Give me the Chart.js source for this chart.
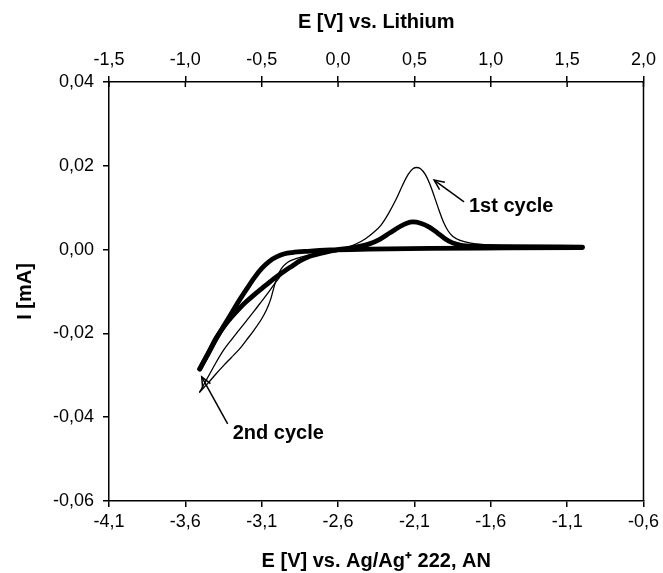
<!DOCTYPE html>
<html>
<head>
<meta charset="utf-8">
<script src="https://cdn.jsdelivr.net/npm/chart.js@4/dist/chart.umd.min.js"></script>
<style>
html,body{margin:0;padding:0;background:#fff;}
#wrap{width:663px;height:573px;}
</style>
</head>
<body>
<div id="wrap"><canvas id="c" width="663" height="573"></canvas></div>
<script>
// ---- Data (E vs Ag/Ag+ in V, I in mA) ----
// 1st cycle, cathodic sweep (from -1.0 V down to the vertex)
const c1CathE = [-1.0, -1.5, -2.0, -2.4, -2.6, -2.7, -2.8, -2.87, -2.93, -2.97, -3.0, -3.02, -3.04, -3.07, -3.1, -3.15, -3.2, -3.245, -3.3, -3.35, -3.4, -3.45, -3.506];
const c1CathI = [0.0005, 0.0003, 0.0002, 0.0, -0.0004, -0.0008, -0.0014, -0.0021, -0.0030, -0.0045, -0.0066, -0.0090, -0.0117, -0.0145, -0.0165, -0.0192, -0.0216, -0.0237, -0.0258, -0.0277, -0.0297, -0.0318, -0.0340];
// 1st cycle, anodic sweep (vertex back to -1.0 V, with the oxidation peak)
const c1AnodE = [-3.506, -3.45, -3.4, -3.35, -3.3, -3.25, -3.2, -3.15, -3.1, -3.05, -3.0, -2.95, -2.9, -2.85, -2.75, -2.65, -2.55, -2.48, -2.42, -2.37, -2.32, -2.27, -2.22, -2.18, -2.14, -2.11, -2.085, -2.06, -2.03, -2.0, -1.97, -1.94, -1.91, -1.88, -1.85, -1.8, -1.72, -1.6, -1.4, -1.0];
const c1AnodI = [-0.0340, -0.0303, -0.0270, -0.0240, -0.0216, -0.0193, -0.0170, -0.0147, -0.0123, -0.0099, -0.0074, -0.0052, -0.0037, -0.0027, -0.0014, -0.0005, 0.0004, 0.0014, 0.0026, 0.0040, 0.0058, 0.0086, 0.0120, 0.0152, 0.0180, 0.0193, 0.0196, 0.0193, 0.0180, 0.0157, 0.0127, 0.0095, 0.0066, 0.0045, 0.0032, 0.0022, 0.0015, 0.0011, 0.0009, 0.0007];
// 2nd cycle, cathodic sweep
const c2CathE = [-1.0, -1.5, -2.0, -2.4, -2.65, -2.8, -2.9, -2.95, -3.0, -3.05, -3.1, -3.15, -3.2, -3.25, -3.3, -3.35, -3.4, -3.45, -3.506];
const c2CathI = [0.0005, 0.0004, 0.0003, 0.0001, -0.0001, -0.0004, -0.0007, -0.0010, -0.0017, -0.0028, -0.0045, -0.0068, -0.0095, -0.0123, -0.0153, -0.0183, -0.0214, -0.0248, -0.0285];
// 2nd cycle, anodic sweep
const c2AnodE = [-3.506, -3.45, -3.4, -3.35, -3.3, -3.245, -3.2, -3.15, -3.1, -3.05, -3.0, -2.95, -2.9, -2.85, -2.8, -2.7, -2.6, -2.5, -2.4, -2.33, -2.26, -2.2, -2.15, -2.11, -2.06, -2.0, -1.95, -1.9, -1.85, -1.8, -1.7, -1.5, -1.0];
const c2AnodI = [-0.0285, -0.0247, -0.0212, -0.0185, -0.0162, -0.0140, -0.0124, -0.0108, -0.0093, -0.0078, -0.0064, -0.0051, -0.0039, -0.0027, -0.0018, -0.0008, 0.0000, 0.0005, 0.0013, 0.0024, 0.0040, 0.0054, 0.0063, 0.0066, 0.0063, 0.0053, 0.0040, 0.0026, 0.0016, 0.0011, 0.0008, 0.0007, 0.0006];

// Tick labels
const eAgTicks = [-4.1, -3.6, -3.1, -2.6, -2.1, -1.6, -1.1, -0.6];
const eLiTicks = [-1.5, -1.0, -0.5, 0.0, 0.5, 1.0, 1.5, 2.0];
const iTicks = [-0.06, -0.04, -0.02, 0.00, 0.02, 0.04];

// Annotation texts
const annoTexts = ['1st cycle', '2nd cycle'];

const pts = (xs, ys) => xs.map((x, i) => ({x: x, y: ys[i]}));
const fmt = (v, d) => { if (Math.abs(v) < 1e-9) v = 0; return v.toFixed(d).replace('.', ','); };

const FONT = "'Liberation Sans', Arial, sans-serif";

const annotationPlugin = {
  id: 'annos',
  afterDatasetsDraw(chart) {
    const ctx = chart.ctx, xs = chart.scales.x, ys = chart.scales.y;
    const P = (x, y) => [xs.getPixelForValue(x), ys.getPixelForValue(y)];
    const items = [
      {text: annoTexts[0], at: [-1.743, 0.0102], tail: [-1.775, 0.0114], head: [-1.971, 0.0166]},
      {text: annoTexts[1], at: [-3.29, -0.0438], tail: [-3.323, -0.0416], head: [-3.493, -0.0304]}
    ];
    ctx.save();
    ctx.strokeStyle = '#000';
    ctx.fillStyle = '#000';
    ctx.lineWidth = 1.5;
    items.forEach(it => {
      const [tx, ty] = P(it.tail[0], it.tail[1]);
      const [hx, hy] = P(it.head[0], it.head[1]);
      ctx.beginPath(); ctx.moveTo(tx, ty); ctx.lineTo(hx, hy); ctx.stroke();
      const ang = Math.atan2(ty - hy, tx - hx);
      const L = 11, a = 0.42;
      ctx.beginPath();
      ctx.moveTo(hx + L * Math.cos(ang + a), hy + L * Math.sin(ang + a));
      ctx.lineTo(hx, hy);
      ctx.lineTo(hx + L * Math.cos(ang - a), hy + L * Math.sin(ang - a));
      ctx.stroke();
      const [px, py] = P(it.at[0], it.at[1]);
      ctx.font = "bold 20px " + FONT;
      ctx.textAlign = 'left';
      ctx.textBaseline = 'middle';
      ctx.fillText(it.text, px, py);
    });
    ctx.restore();
  }
};

const framePlugin = {
  id: 'frame',
  afterDraw(chart) {
    const ctx = chart.ctx, a = chart.chartArea;
    ctx.save();
    ctx.strokeStyle = '#000';
    ctx.lineWidth = 1.5;
    ctx.beginPath();
    ctx.moveTo(a.right, a.top); ctx.lineTo(a.right, a.bottom);
    ctx.stroke();
    // inner halves of the top-axis ticks
    const s = chart.scales.x2;
    s.ticks.forEach(t => {
      const px = s.getPixelForValue(t.value);
      ctx.beginPath(); ctx.moveTo(px, a.top); ctx.lineTo(px, a.top + 5); ctx.stroke();
    });
    ctx.restore();
  }
};

const axisCommon = {
  grid: {drawOnChartArea: false, drawTicks: true, tickLength: 6, color: '#000', lineWidth: 1.5},
  border: {display: true, color: '#000', width: 1.5}
};

const lineStyle = (w) => ({borderColor: '#000', borderWidth: w, pointRadius: 0, cubicInterpolationMode: 'monotone', fill: false, borderCapStyle: 'round', borderJoinStyle: 'round'});

new Chart(document.getElementById('c'), {
  type: 'line',
  data: {
    datasets: [
      Object.assign({data: pts(c2CathE, c2CathI)}, lineStyle(4.8)),
      Object.assign({data: pts(c2AnodE, c2AnodI)}, lineStyle(4.8)),
      Object.assign({data: pts(c1CathE, c1CathI)}, lineStyle(1.3)),
      Object.assign({data: pts(c1AnodE, c1AnodI)}, lineStyle(1.3))
    ]
  },
  options: {
    responsive: false,
    animation: false,
    events: [],
    layout: {padding: {left: 0, right: 18, top: 0, bottom: 0}},
    plugins: {legend: {display: false}, tooltip: {enabled: false}},
    scales: {
      x: Object.assign({}, axisCommon, {
        type: 'linear', position: 'bottom', min: -4.1, max: -0.6,
        afterBuildTicks: s => { s.ticks = eAgTicks.map(v => ({value: v})); },
        afterFit: s => { s.height = 72; },
        ticks: {color: '#000', font: {family: FONT, size: 18}, padding: 4, maxRotation: 0, callback: v => fmt(v, 1)},
        title: {display: true, text: 'E [V] vs. Ag/Ag\u207A 222, AN', color: '#000', font: {family: FONT, size: 20, weight: 'bold'}, padding: {top: 4, bottom: 0}}
      }),
      x2: Object.assign({}, axisCommon, {
        type: 'linear', position: 'top', min: -1.5, max: 2.0,
        afterBuildTicks: s => { s.ticks = eLiTicks.map(v => ({value: v})); },
        afterFit: s => { s.height = 82; },
        ticks: {color: '#000', font: {family: FONT, size: 18}, padding: 5, maxRotation: 0, callback: v => fmt(v, 1)},
        title: {display: true, text: 'E [V] vs. Lithium', color: '#000', font: {family: FONT, size: 20, weight: 'bold'}, padding: {top: 10, bottom: 4}}
      }),
      y: Object.assign({}, axisCommon, {
        type: 'linear', position: 'left', min: -0.06, max: 0.04,
        afterBuildTicks: s => { s.ticks = iTicks.map(v => ({value: v})); },
        afterFit: s => { s.width = 109; },
        ticks: {color: '#000', font: {family: FONT, size: 18}, padding: 9, callback: v => fmt(v, 2)},
        title: {display: true, text: 'I [mA]', color: '#000', font: {family: FONT, size: 20, weight: 'bold'}, padding: {top: 13, bottom: 0}}
      })
    }
  },
  plugins: [annotationPlugin, framePlugin]
});
</script>
</body>
</html>
